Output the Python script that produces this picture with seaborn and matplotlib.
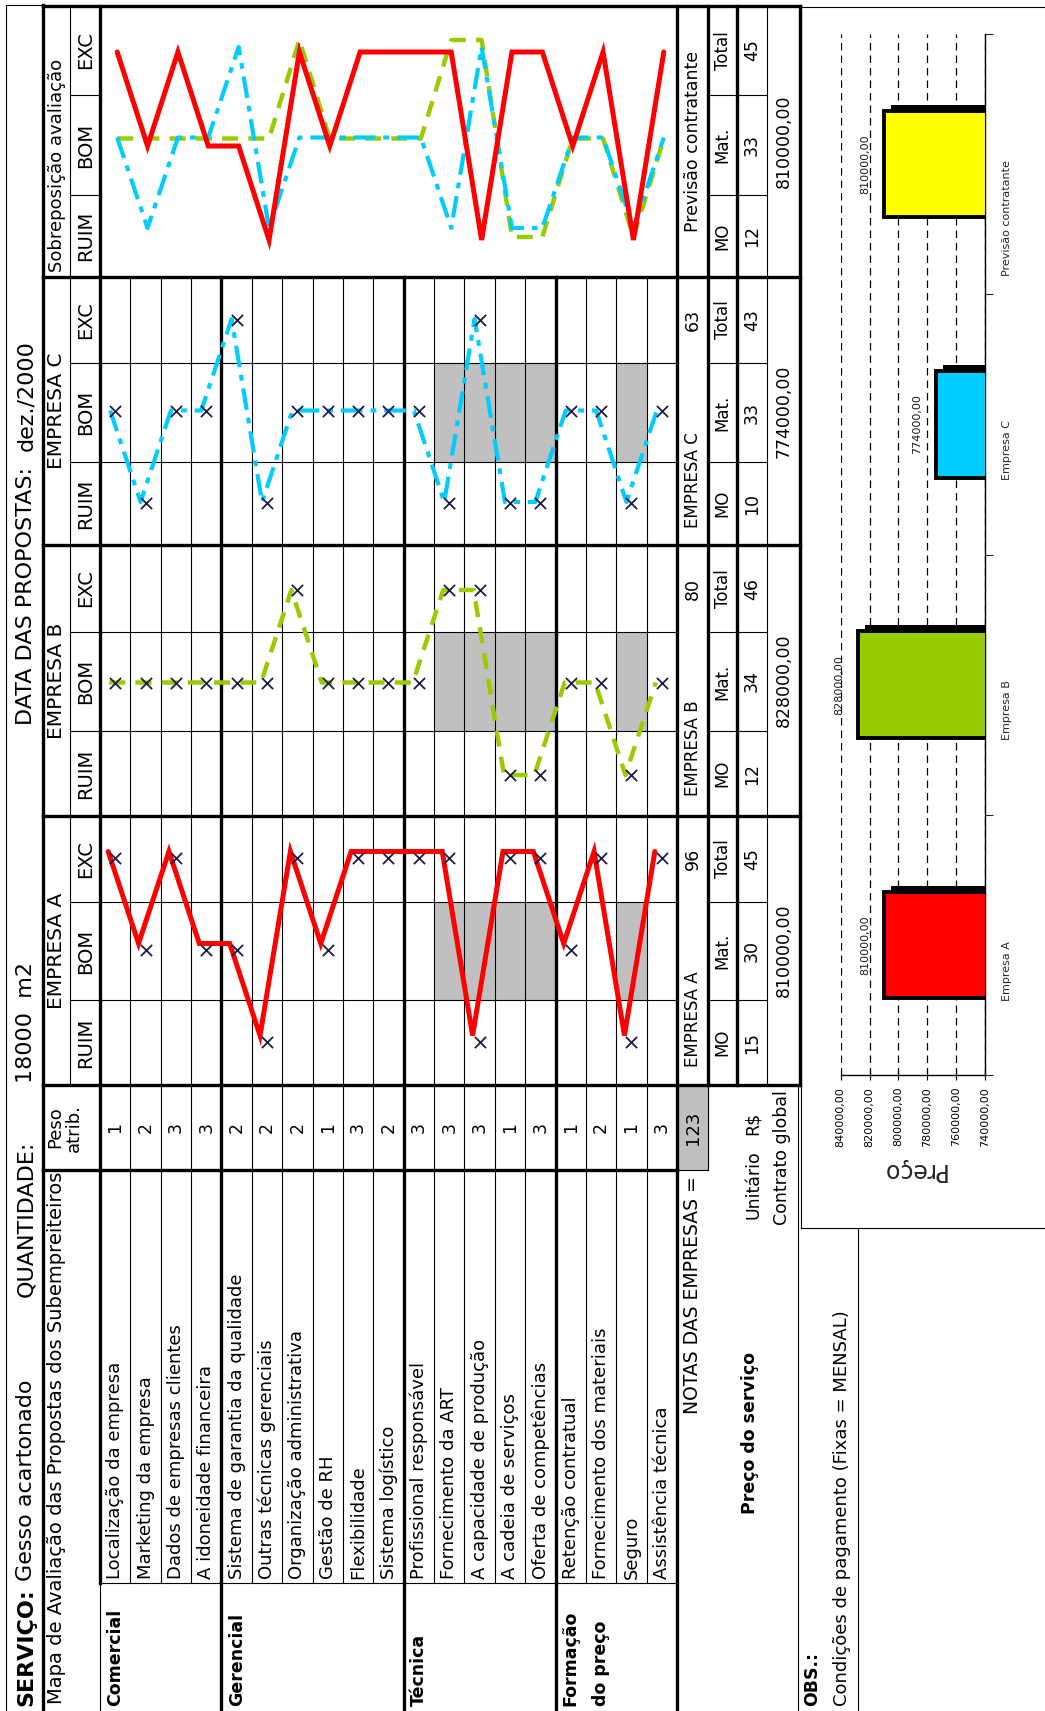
import matplotlib
matplotlib.use("Agg")
import matplotlib.pyplot as plt
from matplotlib.patches import Rectangle
from matplotlib import patheffects as pe
import numpy as np
import pandas as pd
import seaborn as sns

sns.set_theme(style="white")
plt.rcParams["font.family"] = ["DejaVu Sans"]

# ----------------------------- data -----------------------------
servico = "Gesso acartonado"
quantidade = "18000  m2"
data_propostas = "dez./2000"

grupos = ["Comercial", "Gerencial", "Técnica", "Formação\ndo preço"]
grupo_tamanhos = [4, 6, 5, 4]
criterios = [
    "Localização da empresa", "Marketing da empresa", "Dados de empresas clientes",
    "A idoneidade financeira",
    "Sistema de garantia da qualidade", "Outras técnicas gerenciais",
    "Organização administrativa", "Gestão de RH", "Flexibilidade", "Sistema logístico",
    "Profissional responsável", "Fornecimento da ART", "A capacidade de produção",
    "A cadeia de serviços", "Oferta de competências",
    "Retenção contratual", "Fornecimento dos materiais", "Seguro", "Assistência técnica",
]
pesos = [1, 2, 3, 3, 2, 2, 2, 1, 3, 2, 3, 3, 3, 1, 3, 1, 2, 1, 3]
niveis = ["RUIM", "BOM", "EXC"]
pontos_nivel = [0, 2, 3]

aval_a = ["EXC", "BOM", "EXC", "BOM", "BOM", "RUIM", "EXC", "BOM", "EXC", "EXC",
          "EXC", "EXC", "RUIM", "EXC", "EXC", "BOM", "EXC", "RUIM", "EXC"]
aval_b = ["BOM", "BOM", "BOM", "BOM", "BOM", "BOM", "EXC", "BOM", "BOM", "BOM",
          "BOM", "EXC", "EXC", "RUIM", "RUIM", "BOM", "BOM", "RUIM", "BOM"]
aval_c = ["BOM", "RUIM", "BOM", "BOM", "EXC", "RUIM", "BOM", "BOM", "BOM", "BOM",
          "BOM", "RUIM", "EXC", "RUIM", "RUIM", "BOM", "BOM", "RUIM", "BOM"]
criterios_sombreados = ["Fornecimento da ART", "A capacidade de produção",
                        "A cadeia de serviços", "Oferta de competências", "Seguro"]

empresas = ["EMPRESA A", "EMPRESA B", "EMPRESA C"]
mo = [15, 12, 10]
mat = [30, 34, 33]
contrato = [810000, 828000, 774000]
prev_nome = "Previsão contratante"
prev_mo, prev_mat, prev_contrato = 12, 33, 810000

barras_cat = ["Empresa A", "Empresa B", "Empresa C", "Previsão contratante"]
barras_val = [810000, 828000, 774000, 810000]
eixo_ticks = [740000, 760000, 780000, 800000, 820000, 840000]

# ----------------------------- styles / layout -----------------------------
cores = {"EMPRESA A": "#FF0000", "EMPRESA B": "#99CC00", "EMPRESA C": "#00CCFF"}
cores_barras = ["#FF0000", "#99CC00", "#00CCFF", "#FFFF00"]
estilos = {"EMPRESA A": ("-", 3.6), "EMPRESA B": ((0, (3.6, 2.3)), 3.2),
           "EMPRESA C": ((0, (5.2, 1.9, 1.4, 1.9)), 3.0)}
CINZA = "#C0C0C0"
MARK = "#1c1c48"

W, H = 1045, 1711
fig = plt.figure(figsize=(W / 100, H / 100), dpi=100)
fig.patch.set_facecolor("white")
ax0 = fig.add_axes([0, 0, 1, 1])
ax0.set_xlim(0, W)
ax0.set_ylim(H, 0)
ax0.axis("off")

THIN, THICK = 0.8, 2.4
X_T0, X_T1, X_H1 = 6, 43, 70
X_R0, X_R1 = 100, 677
N = len(criterios)
RH = (X_R1 - X_R0) / N
X_NOT, X_MM, X_VAL, X_CON, X_END = 677, 708, 737, 767, 800
Y_TOP = 6
Y_PESO0, Y_PESO1 = 1085, 1170
Y_ITEM1 = 1583
Y_END = 1711

# block: (top, EXC|BOM split, BOM|RUIM split, bottom)
blocos = {"OVER": (6, 95, 195, 277), "EMPRESA C": (277, 363, 462, 545),
          "EMPRESA B": (545, 632, 731, 816), "EMPRESA A": (816, 902, 1000, 1085)}
marcas_pos = {"EMPRESA A": (858, 1042), "EMPRESA B": (590, 775), "EMPRESA C": (320, 503)}
linha_desloc = {"EMPRESA A": (-7, -6.5), "EMPRESA B": (-6, 0), "EMPRESA C": (-5, -1)}
sobrep_pos = {"EMPRESA A": (52, 240), "EMPRESA B": (40, 237), "EMPRESA C": (47, 228)}


def seg(x0, y0, x1, y1, lw=THIN):
    ax0.plot([x0, x1], [y0, y1], color="black", lw=lw,
             solid_capstyle="projecting", zorder=2)


def vt(x, y, s, ha="left", size=12.5, weight="normal", rot=90, color="black"):
    return ax0.text(x, y, s, rotation=rot, rotation_mode="anchor", ha=ha,
                    va="center", fontsize=size, fontweight=weight, color=color,
                    zorder=5)


def fmt(v):
    return f"{v:.2f}".replace(".", ",")


def row_c(i):
    return X_R0 + (i + 0.5) * RH


# ----------------------------- shaded cells -----------------------------
for nome in empresas:
    t, s1, s2, b = blocos[nome]
    for crit in criterios_sombreados:
        i = criterios.index(crit)
        ax0.add_patch(Rectangle((X_R0 + i * RH, s1), RH, s2 - s1,
                                facecolor=CINZA, edgecolor="none", zorder=1))
ax0.add_patch(Rectangle((X_NOT, Y_PESO0), X_MM - X_NOT, Y_PESO1 - Y_PESO0,
                        facecolor=CINZA, edgecolor="none", zorder=1))

# ----------------------------- grid lines -----------------------------
seg(X_T0, 5, X_T0, Y_END)
seg(X_T0, 5, X_T1, 5)
seg(X_T1, 5, X_T1, Y_END, THICK)
seg(X_T1, Y_TOP, X_END, Y_TOP, THICK)
seg(X_H1, Y_TOP, X_H1, Y_PESO0)
seg(X_R0, Y_TOP, X_R0, Y_ITEM1, THICK)
seg(X_R0, Y_ITEM1, X_R0, Y_END)
bounds = np.cumsum(grupo_tamanhos)[:-1]
for k in range(1, N):
    x = X_R0 + k * RH
    if k in bounds:
        seg(x, blocos["EMPRESA C"][0], x, Y_END, THICK)
    else:
        seg(x, blocos["EMPRESA C"][0], x, Y_ITEM1)
seg(X_R1, Y_TOP, X_R1, Y_END, THICK)
seg(X_MM, Y_TOP, X_MM, Y_PESO0, THICK)
seg(X_MM, Y_PESO0, X_MM, Y_PESO1)
seg(X_VAL, Y_TOP, X_VAL, Y_PESO0, THICK)
seg(X_CON, Y_TOP, X_CON, Y_PESO0)
seg(X_END, Y_TOP, X_END, Y_PESO0, THICK)
seg(798, Y_PESO0, 798, Y_END)
for key in ["OVER", "EMPRESA C", "EMPRESA B"]:
    seg(X_T1, blocos[key][3], X_END, blocos[key][3], THICK)
seg(X_T1, Y_PESO0, X_END, Y_PESO0, THICK)
seg(X_T1, Y_PESO1, X_R1, Y_PESO1, THICK)
seg(X_R1, Y_PESO1, X_MM, Y_PESO1)
seg(X_R0, Y_ITEM1, X_R1, Y_ITEM1)
for key, (t, s1, s2, b) in blocos.items():
    x_end = X_R0 if key == "OVER" else X_R1
    for s in (s1, s2):
        seg(X_H1, s, x_end, s)
        seg(X_MM, s, X_CON, s)
# chart frame
seg(801, 7, 801, 1228)
seg(801, 7, W, 7)
seg(801, 1228, W, 1228)
seg(858, 1228, 858, Y_END)

# ----------------------------- texts -----------------------------
t1 = vt(26, 1706, "SERVIÇO:", size=16, weight="bold")
fig.canvas.draw()
y_end = H - t1.get_window_extent().y1
vt(26, y_end - 7, servico, size=16)
vt(26, 1297, "QUANTIDADE:", size=16)
vt(26, 1083, quantidade, size=16)
t2 = vt(26, 340, data_propostas, ha="right", size=16)
fig.canvas.draw()
y_start = H - t2.get_window_extent().y0
vt(26, y_start + 16, "DATA DAS PROPOSTAS:", ha="right", size=16)

vt(57, 1704, "Mapa de Avaliação das Propostas dos Subempreiteiros", size=14)
vt(55, (Y_PESO0 + Y_PESO1) / 2, "Peso", ha="center", size=13)
vt(74, (Y_PESO0 + Y_PESO1) / 2, "atrib.", ha="center", size=13)
vt(57, 272, "Sobreposição avaliação", size=13)
for key, (t, s1, s2, b) in blocos.items():
    if key != "OVER":
        vt(57, (t + b) / 2, key, ha="center", size=14.5)
    for lab, yc in zip(niveis, [(s2 + b) / 2, (s1 + s2) / 2, (t + s1) / 2]):
        vt(86, yc, lab, ha="center", size=14)

for i, (crit, p) in enumerate(zip(criterios, pesos)):
    vt(row_c(i), 1579, crit, size=13)
    vt(row_c(i), (Y_PESO0 + Y_PESO1) / 2, str(p), ha="center", size=12.5)
inicio = 0
for g, n in zip(grupos, grupo_tamanhos):
    for j, parte in enumerate(g.split("\n")):
        vt(row_c(inicio + j), 1706, parte, size=12.5, weight="bold")
    inicio += n

# totals
max_nota = sum(pesos) * max(pontos_nivel)
vt((X_NOT + X_MM) / 2, 1176, "NOTAS DAS EMPRESAS =", ha="right", size=13.5)
vt((X_NOT + X_MM) / 2, (Y_PESO0 + Y_PESO1) / 2, str(max_nota), ha="center", size=13)
vt(750, 1352, "Preço do serviço", ha="right", size=12.5, weight="bold")
vt(753, 1150, "Unitário", ha="right", size=12.5)
vt(753, 1112, "R$", ha="right", size=12.5)
vt(782, 1090, "Contrato global", ha="right", size=12.5)
vt(812, 1706, "OBS.:", size=12.5, weight="bold")
vt(842, 1706, "Condições de pagamento (Fixas = MENSAL)", size=13)

avals = {"EMPRESA A": aval_a, "EMPRESA B": aval_b, "EMPRESA C": aval_c}
for nome, m_o, m_a, c in zip(empresas, mo, mat, contrato):
    t, s1, s2, b = blocos[nome]
    nota = sum(p * pontos_nivel[niveis.index(v)] for p, v in zip(pesos, avals[nome]))
    vt((X_NOT + X_MM) / 2, t + 203, nome, ha="center", size=12)
    vt((X_NOT + X_MM) / 2, (t + s1) / 2, str(nota), ha="center", size=12.5)
    cols = [(s2 + b) / 2, (s1 + s2) / 2, (t + s1) / 2]
    for lab, v, yc in zip(["MO", "Mat.", "Total"], [m_o, m_a, m_o + m_a], cols):
        vt((X_MM + X_VAL) / 2, yc, lab, ha="center", size=12)
        vt((X_VAL + X_CON) / 2, yc, str(v), ha="center", size=12.5)
    vt((X_CON + X_END) / 2, (t + b) / 2, fmt(c), ha="center", size=12.5)
t, s1, s2, b = blocos["OVER"]
vt((X_NOT + X_MM) / 2, (t + b) / 2, prev_nome, ha="center", size=12.5)
for lab, v, yc in zip(["MO", "Mat.", "Total"], [prev_mo, prev_mat, prev_mo + prev_mat],
                      [(s2 + b) / 2, (s1 + s2) / 2, (t + s1) / 2]):
    vt((X_MM + X_VAL) / 2, yc, lab, ha="center", size=12)
    vt((X_VAL + X_CON) / 2, yc, str(v), ha="center", size=12.5)
vt((X_CON + X_END) / 2, (t + b) / 2, fmt(prev_contrato), ha="center", size=12.5)


# ----------------------------- line charts -----------------------------
def nivel_axes(top, bottom, pE, pR, dx=0.0, dy=0.0):
    ax = fig.add_axes([(X_R0 + dx) / W, 1 - (bottom + dy) / H,
                       (X_R1 - X_R0) / W, (bottom - top) / H])
    ax.set_xlim(-0.5, N - 0.5)
    s = (pR - pE) / 2.0
    yhi = 2 + (pE - top) / s
    ax.set_ylim(yhi - (bottom - top) / s, yhi)
    ax.set_axis_off()
    ax.patch.set_alpha(0)
    return ax


def frame(nome):
    return pd.DataFrame({"linha": np.arange(N),
                         "nivel": [niveis.index(v) for v in avals[nome]]})


def draw_line(ax, nome):
    ls, lw = estilos[nome]
    sns.lineplot(data=frame(nome), x="linha", y="nivel", ax=ax, color=cores[nome],
                 lw=lw, sort=False, estimator=None, errorbar=None)
    ln = ax.lines[-1]
    ln.set_linestyle(ls)
    ln.set_solid_joinstyle("miter")
    ax.set_axis_off()


for nome in empresas:
    t, s1, s2, b = blocos[nome]
    pE, pR = marcas_pos[nome]
    dx, dy = linha_desloc[nome]
    axl = nivel_axes(t, b, pE, pR, dx, dy)
    draw_line(axl, nome)
    axm = nivel_axes(t, b, pE, pR)
    sns.scatterplot(data=frame(nome), x="linha", y="nivel", ax=axm, marker="x",
                    color=MARK, s=65, linewidth=1.3, zorder=4)
    axm.set_axis_off()

t, s1, s2, b = blocos["OVER"]
for nome in ["EMPRESA B", "EMPRESA C", "EMPRESA A"]:
    pE, pR = sobrep_pos[nome]
    axo = nivel_axes(t, b, pE, pR, 2, 0)
    draw_line(axo, nome)

# ----------------------------- bar chart -----------------------------
axb = fig.add_axes([840.7 / W, 1 - 1075 / H, (985 - 840.7) / W, (1075 - 34) / H])
df_bar = pd.DataFrame({"Empresa": barras_cat, "Preço": barras_val})
ordem = ["Previsão contratante", "Empresa C", "Empresa B", "Empresa A"]
sns.barplot(data=df_bar, x="Preço", y="Empresa", hue="Empresa", order=ordem,
            hue_order=barras_cat, palette=cores_barras, saturation=1, orient="h",
            width=0.41, edgecolor="black", linewidth=2.8, legend=False, ax=axb,
            zorder=3)
axb.set_xlim(max(eixo_ticks), min(eixo_ticks))
axb.set_ylim(len(ordem) - 0.5, -0.5)
for p in axb.patches:
    p.set_path_effects([pe.SimplePatchShadow(offset=(5, 4.3), shadow_rgbFace="black",
                                             alpha=1.0), pe.Normal()])
axb.set_facecolor("white")
axb.grid(axis="x", color="black", linestyle=(0, (6, 4)), linewidth=0.9)
axb.grid(axis="y", visible=False)
axb.set_axisbelow(True)
axb.set_xticks(eixo_ticks)
axb.set_xticklabels([fmt(v) for v in eixo_ticks], rotation=90, fontsize=8)
axb.tick_params(axis="x", direction="inout", length=7, width=0.8, bottom=True, pad=5,
                colors="black")
axb.yaxis.set_ticks_position("right")
axb.set_yticks(range(len(ordem)))
axb.set_yticklabels(ordem, rotation=90, fontsize=8)
axb.set_yticks(np.arange(-0.5, len(ordem), 1.0), minor=True)
axb.tick_params(axis="y", which="major", length=0, pad=12, right=True, left=False)
axb.tick_params(axis="y", which="minor", length=6, width=0.8, direction="out",
                right=True, left=False)
for sp in ["top", "left"]:
    axb.spines[sp].set_visible(False)
for sp in ["right", "bottom"]:
    axb.spines[sp].set_color("black")
    axb.spines[sp].set_linewidth(1.0)
axb.set_ylabel("")
axb.set_xlabel("Preço", rotation=180, fontsize=17, labelpad=8)
for cont in axb.containers:
    axb.bar_label(cont, labels=[fmt(v) for v in cont.datavalues], rotation=90,
                  padding=10, fontsize=8, color="#1a1a1a")

fig.savefig("out.png", dpi=100, facecolor="white")
